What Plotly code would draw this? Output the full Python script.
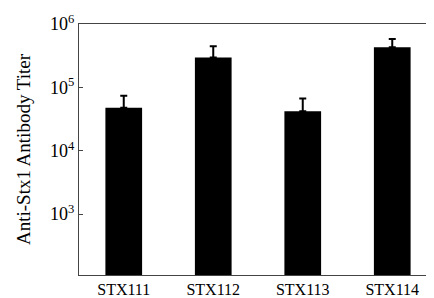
import plotly.graph_objects as go

categories = ["STX111", "STX112", "STX113", "STX114"]
titers = [47600, 297000, 42100, 430000]
errors_plus = [26200, 148000, 24900, 150000]
tick_vals = [1e3, 1e4, 1e5, 1e6]
tick_text = ["10<sup>3</sup>", "10<sup>4</sup>", "10<sup>5</sup>", "10<sup>6</sup>"]

fig = go.Figure()
fig.add_trace(go.Bar(
    x=categories, y=titers,
    marker=dict(color="black", line=dict(width=0)),
    error_y=dict(type="data", array=errors_plus, arrayminus=[0]*4, symmetric=False,
                 color="black", thickness=2, width=3.5),
))

fig.update_layout(
    width=434, height=298,
    margin=dict(l=71, r=4, t=12, b=31),
    paper_bgcolor="white", plot_bgcolor="white",
    bargap=0.59, showlegend=False,
    font=dict(family="Liberation Serif", color="black"),
)
fig.update_xaxes(
    showline=True, linecolor="#444", linewidth=1.2, mirror=True,
    ticks="", tickfont=dict(size=16, family="Liberation Serif"),
)
fig.update_yaxes(
    type="log", range=[2.04, 6],
    tickvals=tick_vals, ticktext=tick_text,
    showline=True, linecolor="#444", linewidth=1.2, mirror=True,
    ticks="inside", ticklen=4, tickcolor="#444",
    showgrid=False, tickfont=dict(size=18, family="Liberation Serif"),
    ticklabeloverflow="allow",
    title=dict(text="Anti-Stx1 Antibody Titer", font=dict(size=19, family="Liberation Serif"), standoff=14),
)
fig.write_html("out.html")
